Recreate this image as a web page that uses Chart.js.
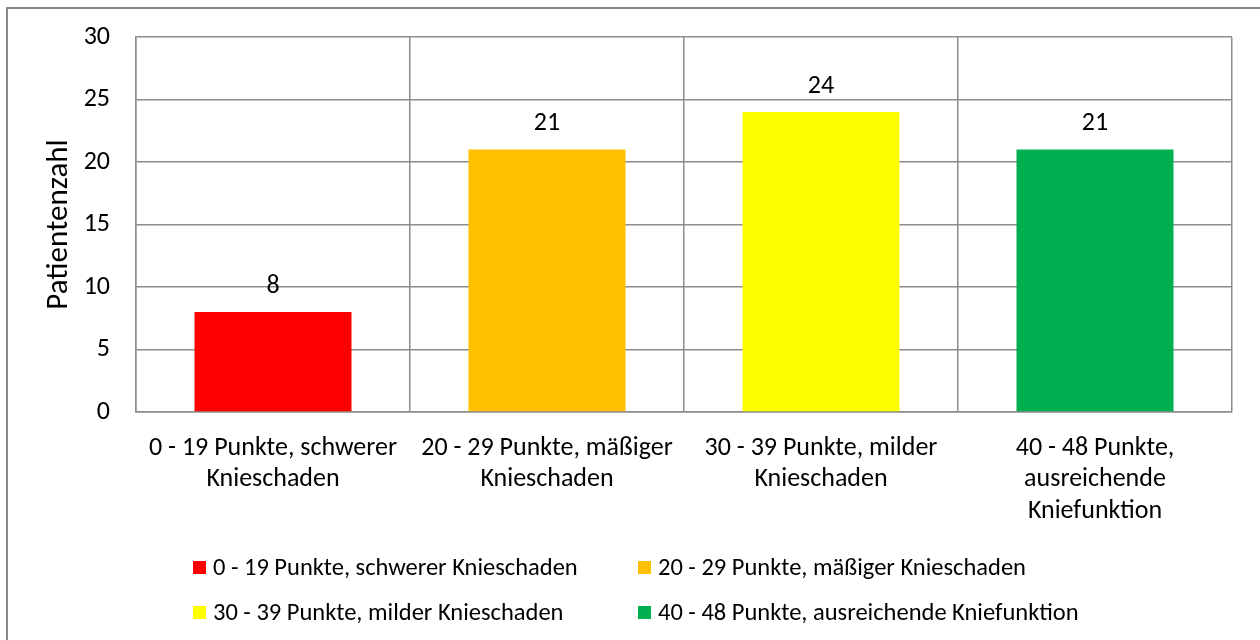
<!DOCTYPE html>
<html>
<head>
<meta charset="utf-8">
<script src="https://cdn.jsdelivr.net/npm/chart.js@4.4.1/dist/chart.umd.min.js"></script>
<style>
  html, body { margin: 0; padding: 0; background: #fff; }
  #wrap { position: relative; width: 1260px; height: 640px; overflow: hidden; }
  #frame { position: absolute; left: 6px; top: 7px; width: 1300px; height: 700px; border: 2px solid #8a8a8a; box-sizing: border-box; pointer-events: none; }
  canvas { position: absolute; left: 0; top: 0; }
  .leg { position: absolute; display: flex; align-items: center; font-family: Carlito, Lato, "Liberation Sans", sans-serif; font-size: 24.5px; color: #000; white-space: nowrap; height: 24px; line-height: 24px; }
  .leg span.box { display: inline-block; width: 13px; height: 13px; margin-right: 7px; flex: none; }
</style>
</head>
<body>
<div id="wrap">
  <canvas id="c" width="1260" height="640"></canvas>
  <div id="frame"></div>
  <div id="legend"></div>
</div>
<script>
const categories = [
  ["0 - 19 Punkte, schwerer", "Knieschaden"],
  ["20 - 29 Punkte, mäßiger", "Knieschaden"],
  ["30 - 39 Punkte, milder", "Knieschaden"],
  ["40 - 48 Punkte,", "ausreichende", "Kniefunktion"]
];
const legendLabels = [
  "0 - 19 Punkte, schwerer Knieschaden",
  "20 - 29 Punkte, mäßiger Knieschaden",
  "30 - 39 Punkte, milder Knieschaden",
  "40 - 48 Punkte, ausreichende Kniefunktion"
];
const patientCounts = [8, 21, 24, 21];
const barColors = ["#FF0000", "#FFC000", "#FFFF00", "#00B050"];
const yTicks = [0, 5, 10, 15, 20, 25, 30];
const yTitle = "Patientenzahl";

const FONT = "Carlito, Lato, 'Liberation Sans', sans-serif";
const gridColor = "#8c8c8c";

const valueLabels = {
  id: "valueLabels",
  afterDatasetsDraw(chart) {
    const ctx = chart.ctx;
    const meta = chart.getDatasetMeta(0);
    ctx.save();
    ctx.font = "26px " + FONT;
    ctx.fillStyle = "#000";
    ctx.textAlign = "center";
    ctx.textBaseline = "middle";
    meta.data.forEach((bar, i) => {
      ctx.fillText(String(patientCounts[i]), bar.x, bar.y - 26);
    });
    ctx.restore();
  }
};

const chart = new Chart(document.getElementById("c"), {
  type: "bar",
  data: {
    labels: categories,
    datasets: [{
      data: patientCounts,
      backgroundColor: barColors,
      borderWidth: 0,
      barPercentage: 0.573,
      categoryPercentage: 1.0
    }]
  },
  options: {
    responsive: false,
    animation: false,
    devicePixelRatio: 1,
    layout: { padding: { top: 37, right: 28, bottom: 0, left: 0 } },
    plugins: { legend: { display: false }, tooltip: { enabled: false } },
    scales: {
      x: {
        offset: true,
        grid: { display: true, offset: true, color: gridColor, lineWidth: 1.5, drawTicks: false },
        border: { display: true, color: gridColor, width: 1.5 },
        ticks: {
          color: "#000",
          font: { family: FONT, size: 26, lineHeight: 1.2 },
          padding: 21,
          maxRotation: 0,
          autoSkip: false
        },
        afterFit(scale) { scale.height = 228; scale.paddingLeft = 0; scale.paddingRight = 0; }
      },
      y: {
        min: 0, max: 30,
        afterBuildTicks(scale) { scale.ticks = yTicks.map(v => ({ value: v })); },
        grid: { color: gridColor, lineWidth: 1.5, drawTicks: false },
        border: { display: true, color: gridColor, width: 1.5 },
        ticks: {
          color: "#000",
          font: { family: FONT, size: 26 },
          padding: 26
        },
        title: {
          display: true,
          text: yTitle,
          color: "#000",
          font: { family: FONT, size: 31, lineHeight: 1.2 },
          padding: { top: 41, bottom: 0 }
        },
        afterFit(scale) { scale.width = 136; scale.paddingTop = 0; scale.paddingBottom = 0; }
      }
    }
  },
  plugins: [valueLabels]
});

// HTML legend, 2 columns
const legendPos = [
  { left: 193, top: 555 }, { left: 638, top: 555 },
  { left: 193, top: 600 }, { left: 638, top: 600 }
];
const legEl = document.getElementById("legend");
legendLabels.forEach((txt, i) => {
  const d = document.createElement("div");
  d.className = "leg";
  d.style.left = legendPos[i].left + "px";
  d.style.top = legendPos[i].top + "px";
  const b = document.createElement("span");
  b.className = "box";
  b.style.background = barColors[i];
  d.appendChild(b);
  d.appendChild(document.createTextNode(txt));
  legEl.appendChild(d);
});
</script>
</body>
</html>
